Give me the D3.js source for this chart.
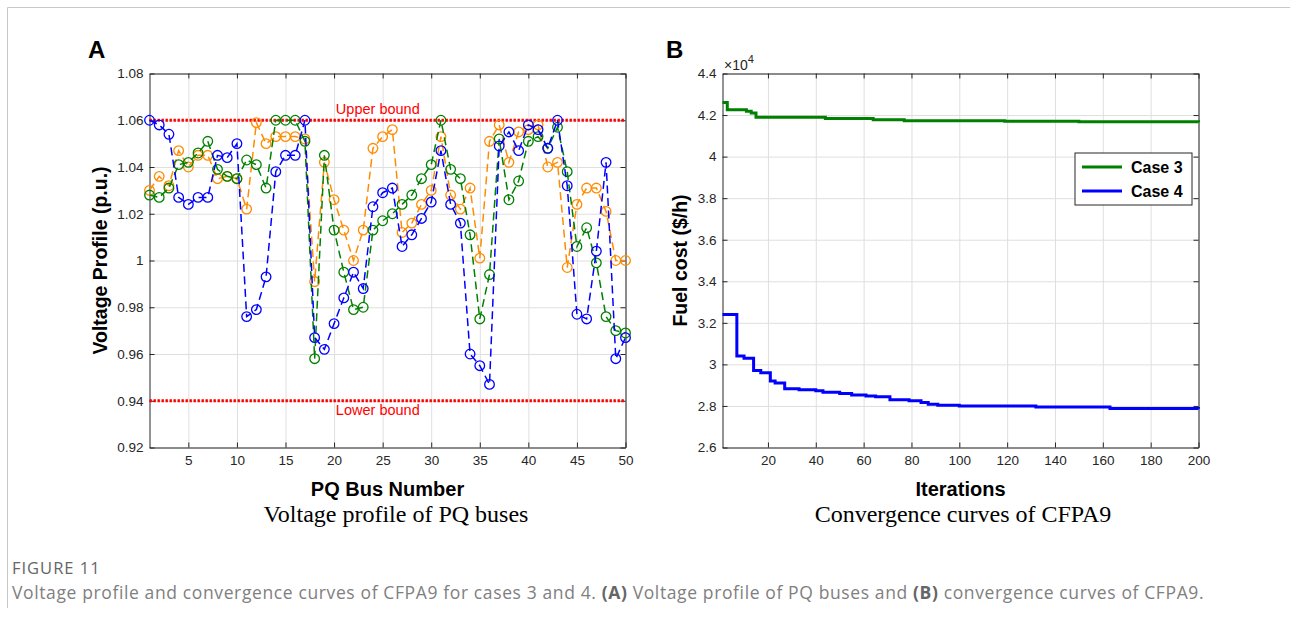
<!DOCTYPE html>
<html>
<head>
<meta charset="utf-8">
<script src="https://cdn.jsdelivr.net/npm/d3@7"></script>
<style>
  body { margin: 0; background: #fff; }
  svg text { font-family: "Liberation Sans", Arial, sans-serif; }
</style>
</head>
<body>
<div id="chart"></div>
<script>
// ---- panel A : voltage profile of PQ buses ----
const busNumbers = [1,2,3,4,5,6,7,8,9,10,11,12,13,14,15,16,17,18,19,20,21,22,23,24,25,
  26,27,28,29,30,31,32,33,34,35,36,37,38,39,40,41,42,43,44,45,46,47,48,49,50];
const voltageOrange = [1.030,1.036,1.032,1.047,1.040,1.045,1.045,1.035,1.036,1.035,
  1.022,1.059,1.050,1.053,1.053,1.053,1.052,0.991,1.042,1.026,
  1.013,1.000,1.013,1.048,1.053,1.056,1.012,1.016,1.024,1.030,
  1.053,1.028,1.022,1.031,1.001,1.051,1.058,1.042,1.055,1.056,
  1.058,1.040,1.042,0.997,1.024,1.031,1.031,1.021,1.000,1.000];
const voltageCase3 = [1.028,1.027,1.031,1.041,1.042,1.046,1.051,1.039,1.036,1.035,
  1.043,1.041,1.031,1.060,1.060,1.060,1.051,0.958,1.045,1.013,
  0.995,0.979,0.980,1.013,1.017,1.020,1.024,1.028,1.035,1.041,
  1.060,1.039,1.035,1.011,0.975,0.994,1.052,1.026,1.034,1.051,
  1.053,1.048,1.057,1.038,1.006,1.014,0.999,0.976,0.970,0.969];
const voltageCase4 = [1.060,1.058,1.054,1.027,1.024,1.027,1.027,1.045,1.044,1.050,
  0.976,0.979,0.993,1.038,1.045,1.045,1.060,0.967,0.962,0.973,
  0.984,0.995,0.988,1.023,1.029,1.031,1.006,1.011,1.018,1.025,
  1.047,1.024,1.016,0.960,0.955,0.947,1.049,1.055,1.047,1.058,
  1.056,1.048,1.060,1.032,0.977,0.975,1.004,1.042,0.958,0.967];
const voltageBounds = [1.06, 0.94];
const boundLabels = ["Upper bound", "Lower bound"];
const busTicks = [5,10,15,20,25,30,35,40,45,50];
const voltTicks = [0.92,0.94,0.96,0.98,1.00,1.02,1.04,1.06,1.08];

// ---- panel B : convergence curves (step change points) ----
const case3Iter = [1,3,11,13,15,44,64,77,119,150,200];
const case3Cost = [42600,42250,42180,42100,41890,41830,41780,41730,41700,41680,41650];
const case4Iter = [1,7,10,14,17,21,23,27,33,40,43,50,55,61,65,71,79,84,87,91,100,132,163,200];
const case4Cost = [32400,30400,30300,29700,29600,29200,29100,28830,28780,28730,28660,28600,28530,
  28480,28440,28300,28250,28170,28080,28030,28000,27950,27880,27870];
const iterTicks = [20,40,60,80,100,120,140,160,180,200];
const costTicks = [26000,28000,30000,32000,34000,36000,38000,40000,42000,44000];
const legendNames = ["Case 3", "Case 4"];

const W = 1290, H = 626;
const plotTop = 73.5, plotBottom = 447.5;
const ink = "#262626";

const svg = d3.select("#chart").append("svg")
  .attr("width", W).attr("height", H);

svg.append("rect").attr("width", W).attr("height", H).attr("fill", "#fff");
// figure frame
svg.append("path").attr("d", `M7.5,${H - 18}V7.5H${W}`)
  .attr("fill", "none").attr("stroke", "#c8c8c8").attr("stroke-width", 1);

// matlab-like box, grid and inward ticks
function drawAxes(x, y, xTicks, yTicks, xFmt, yFmt) {
  const [x0, x1] = x.range();
  const g = svg.append("g");
  g.append("g").attr("transform", `translate(0,${plotBottom})`)
    .call(d3.axisBottom(x).tickValues(xTicks).tickSize(-(plotBottom - plotTop)).tickFormat(""))
    .call(s => s.select(".domain").remove())
    .selectAll("line").attr("stroke", "#dfdfdf");
  g.append("g").attr("transform", `translate(${x0},0)`)
    .call(d3.axisLeft(y).tickValues(yTicks).tickSize(-(x1 - x0)).tickFormat(""))
    .call(s => s.select(".domain").remove())
    .selectAll("line").attr("stroke", "#dfdfdf");

  const axes = [
    g.append("g").attr("transform", `translate(0,${plotBottom})`)
      .call(d3.axisBottom(x).tickValues(xTicks).tickSize(-5).tickSizeOuter(0).tickPadding(8).tickFormat(xFmt)),
    g.append("g").attr("transform", `translate(${x0},0)`)
      .call(d3.axisLeft(y).tickValues(yTicks).tickSize(-5).tickSizeOuter(0).tickPadding(6).tickFormat(yFmt)),
    g.append("g").attr("transform", `translate(0,${plotTop})`)
      .call(d3.axisTop(x).tickValues(xTicks).tickSize(-5).tickSizeOuter(0).tickFormat("")),
    g.append("g").attr("transform", `translate(${x1},0)`)
      .call(d3.axisRight(y).tickValues(yTicks).tickSize(-5).tickSizeOuter(0).tickFormat(""))
  ];
  axes.forEach(a => {
    a.selectAll("path, line").attr("stroke", ink).attr("stroke-width", 1);
    a.selectAll("text").attr("fill", ink).style("font-size", "13.5px")
      .style("font-family", "'Liberation Sans', Arial, sans-serif");
  });
  return g;
}

// ================= panel A =================
const xA = d3.scaleLinear().domain([1, 50]).range([149.5, 625.5]);
const yA = d3.scaleLinear().domain([0.92, 1.08]).range([plotBottom, plotTop]);
drawAxes(xA, yA, busTicks, voltTicks, d => d, d => String(+d.toFixed(2)));

const plotA = svg.append("g");
plotA.selectAll(".bound").data(voltageBounds).enter().append("line")
  .attr("x1", xA(1)).attr("x2", xA(50))
  .attr("y1", d => yA(d)).attr("y2", d => yA(d))
  .attr("stroke", "#ff0000").attr("stroke-width", 2.8).attr("stroke-dasharray", "2.4,1.6");
plotA.selectAll(".boundLabel").data(voltageBounds).enter().append("text")
  .attr("x", xA(24.5)).attr("y", (d, i) => i === 0 ? yA(d) - 6 : yA(d) + 14)
  .attr("text-anchor", "middle").attr("fill", "#ff0000").style("font-size", "14.5px")
  .text((d, i) => boundLabels[i]);

const seriesA = [
  { values: voltageOrange, color: "#ff8c00" },
  { values: voltageCase3, color: "#008000" },
  { values: voltageCase4, color: "#0000ff" }
];
const lineA = d3.line().x((d, i) => xA(busNumbers[i])).y(d => yA(d));
seriesA.forEach(s => {
  plotA.append("path").datum(s.values).attr("d", lineA)
    .attr("fill", "none").attr("stroke", s.color).attr("stroke-width", 1.5)
    .attr("stroke-dasharray", "8,4.5");
  plotA.append("g").selectAll("circle").data(s.values).enter().append("circle")
    .attr("cx", (d, i) => xA(busNumbers[i])).attr("cy", d => yA(d)).attr("r", 4.8)
    .attr("fill", "none").attr("stroke", s.color).attr("stroke-width", 1.3);
});

svg.append("text").attr("x", xA(25.5)).attr("y", 496).attr("text-anchor", "middle")
  .attr("fill", "#000").style("font-weight", "bold").style("font-size", "20px").text("PQ Bus Number");
svg.append("text").attr("transform", `translate(107,${(plotTop + plotBottom) / 2}) rotate(-90)`)
  .attr("text-anchor", "middle").attr("fill", "#000").style("font-weight", "bold")
  .style("font-size", "19.5px").text("Voltage Profile (p.u.)");
svg.append("text").attr("x", 396).attr("y", 522).attr("text-anchor", "middle")
  .style("font-family", "'Liberation Serif', 'Times New Roman', serif").style("font-size", "24px")
  .attr("fill", "#000").text("Voltage profile of PQ buses");
svg.append("text").attr("x", 88).attr("y", 58).style("font-weight", "bold")
  .style("font-size", "24px").attr("fill", "#000").text("A");

// ================= panel B =================
const xB = d3.scaleLinear().domain([1, 200]).range([722.5, 1198.5]);
const yB = d3.scaleLinear().domain([26000, 44000]).range([plotBottom, plotTop]);
drawAxes(xB, yB, iterTicks, costTicks, d => d, d => String(+(d / 1e4).toFixed(1)));

const seriesB = [
  { iter: case3Iter, cost: case3Cost, color: "#008000" },
  { iter: case4Iter, cost: case4Cost, color: "#0000ff" }
];
const lineB = d3.line().x(d => xB(d[0])).y(d => yB(d[1])).curve(d3.curveStepAfter);
seriesB.forEach(s => {
  svg.append("path").datum(s.iter.map((it, i) => [it, s.cost[i]])).attr("d", lineB)
    .attr("fill", "none").attr("stroke", s.color).attr("stroke-width", 3);
});

// exponent label
const expo = svg.append("text").attr("x", 724).attr("y", 70).attr("fill", ink).style("font-size", "14px");
expo.append("tspan").text("\u00d710");
expo.append("tspan").attr("dy", -7).style("font-size", "11px").text("4");

// legend
const leg = svg.append("g").attr("transform", "translate(1075,153)");
leg.append("rect").attr("width", 117).attr("height", 52).attr("fill", "#fff")
  .attr("stroke", ink).attr("stroke-width", 1);
seriesB.forEach((s, i) => {
  const yy = 14 + i * 24;
  leg.append("line").attr("x1", 7).attr("x2", 47).attr("y1", yy).attr("y2", yy)
    .attr("stroke", s.color).attr("stroke-width", 3);
  leg.append("text").attr("x", 56).attr("y", yy + 5.5).attr("fill", "#000")
    .style("font-weight", "bold").style("font-size", "16px").text(legendNames[i]);
});

svg.append("text").attr("x", (722.5 + 1198.5) / 2).attr("y", 496).attr("text-anchor", "middle")
  .attr("fill", "#000").style("font-weight", "bold").style("font-size", "20px").text("Iterations");
svg.append("text").attr("transform", `translate(687,${(plotTop + plotBottom) / 2}) rotate(-90)`)
  .attr("text-anchor", "middle").attr("fill", "#000").style("font-weight", "bold")
  .style("font-size", "19.5px").text("Fuel cost ($/h)");
svg.append("text").attr("x", 963).attr("y", 522).attr("text-anchor", "middle")
  .style("font-family", "'Liberation Serif', 'Times New Roman', serif").style("font-size", "24px")
  .attr("fill", "#000").text("Convergence curves of CFPA9");
svg.append("text").attr("x", 666).attr("y", 58).style("font-weight", "bold")
  .style("font-size", "24px").attr("fill", "#000").text("B");

// ================= caption =================
svg.append("text").attr("x", 12).attr("y", 574).attr("fill", "#666")
  .style("font-family", "'Open Sans', sans-serif").style("font-size", "16.5px")
  .style("letter-spacing", "1px").text("FIGURE 11");
const cap = svg.append("text").attr("x", 12).attr("y", 599).attr("fill", "#808080")
  .style("font-family", "'Open Sans', sans-serif").style("font-size", "17.5px")
  .style("letter-spacing", "0.62px");
cap.append("tspan").text("Voltage profile and convergence curves of CFPA9 for cases 3 and 4. ");
cap.append("tspan").attr("fill", "#666").style("font-weight", "bold").text("(A)");
cap.append("tspan").text(" Voltage profile of PQ buses and ");
cap.append("tspan").attr("fill", "#666").style("font-weight", "bold").text("(B)");
cap.append("tspan").text(" convergence curves of CFPA9.");
</script>
</body>
</html>
